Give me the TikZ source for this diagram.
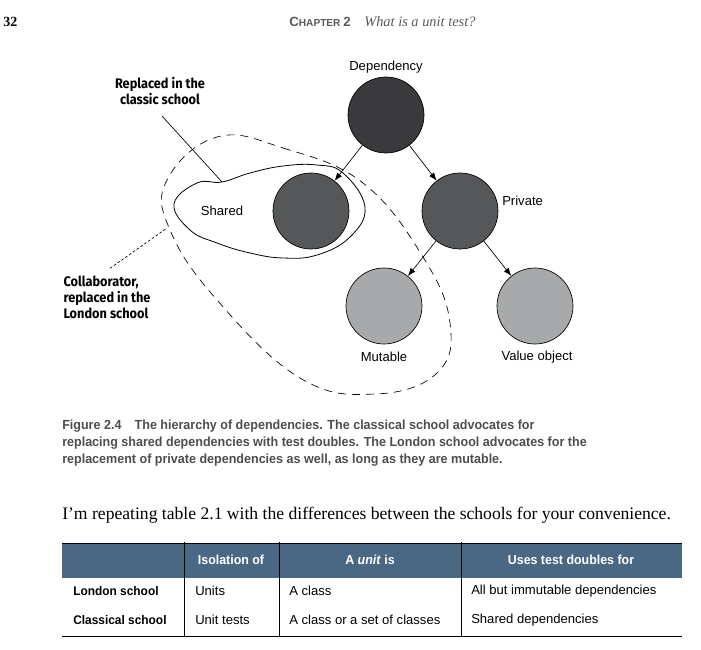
\documentclass[tikz,border=0pt]{standalone}
\usepackage{fontspec}
\setmainfont{Liberation Serif}
\setsansfont{Liberation Sans}
\newfontfamily\capfont[FakeStretch=0.95]{Liberation Sans}
\newfontfamily\callfont[FakeStretch=0.92]{Fira Sans}
\usetikzlibrary{arrows.meta}

\definecolor{darkdep}{HTML}{3A3A3C}
\definecolor{middep}{HTML}{555759}
\definecolor{lightdep}{HTML}{A7A9AB}
\definecolor{headblue}{HTML}{4A6784}
\definecolor{capgray}{HTML}{4D4D4D}
\definecolor{pagegray}{HTML}{58595B}

\begin{document}
\begin{tikzpicture}[x=0.75pt, y=-0.75pt,
    dep/.style={circle, draw=black, line width=0.5pt, minimum size=57pt, inner sep=0pt},
    lbl/.style={font=\sffamily\fontsize{9.8}{12}\selectfont, inner sep=0pt},
    callout/.style={font=\callfont\bfseries\fontsize{10.4}{12}\selectfont, inner sep=0pt},
    arr/.style={-{Latex[length=6pt,width=4.5pt]}, line width=0.5pt},
    capline/.style={font=\capfont\bfseries\fontsize{9.9}{12}\selectfont, text=capgray, anchor=west, inner sep=0pt},
    cell/.style={font=\sffamily\fontsize{9.8}{12}\selectfont, anchor=west, inner sep=0pt},
    rowhead/.style={font=\capfont\bfseries\fontsize{9.4}{12}\selectfont, anchor=west, inner sep=0pt},
    headcell/.style={font=\capfont\bfseries\fontsize{9.8}{12}\selectfont, text=white, inner sep=0pt}]

  \useasboundingbox (0,0) rectangle (701,650);

  % running head
  \node[font=\bfseries\fontsize{10.5}{12}\selectfont, anchor=west, inner sep=0pt] (pagenum) at (3,22) {32};
  \node[font=\sffamily\bfseries, text=pagegray, anchor=west, inner sep=0pt] (chapter) at (289,22)
      {\fontsize{10}{12}\selectfont C\fontsize{7.6}{12}\selectfont HAPTER \fontsize{10}{12}\selectfont 2};
  \node[font=\itshape\fontsize{10.8}{12}\selectfont, text=pagegray, anchor=west, inner sep=0pt] (title) at (364,22)
      {What is a unit test?};

  % the two groups
  \draw[line width=0.5pt, dash pattern=on 6pt off 4.5pt]
      plot[smooth cycle, tension=0.7] coordinates {(217,137) (283,148) (363,183) (423,257) (450,323)
          (437,373) (375,394) (300,378) (217,300) (170,230) (167,180)};
  \draw[line width=0.6pt]
      plot[smooth cycle, tension=0.7] coordinates {(174,204) (197,183) (222,182) (250,173) (283,166)
          (317,165) (343,173) (365,207) (350,237) (317,255) (283,258) (250,253) (217,243) (190,230)};

  % dependencies
  \node[dep, fill=darkdep] (dependency) at (386,115) {};
  \node[dep, fill=middep] (shared) at (311,211) {};
  \node[dep, fill=middep] (private) at (460,211) {};
  \node[dep, fill=lightdep] (mutable) at (384,306) {};
  \node[dep, fill=lightdep] (valueobj) at (535,306) {};

  \node[lbl] (deplbl) at (386,67) {Dependency};
  \node[lbl] (sharedlbl) at (222,211) {Shared};
  \node[lbl, anchor=west] (privatelbl) at (502,201) {Private};
  \node[lbl] (mutablelbl) at (384,357) {Mutable};
  \node[lbl] (valuelbl) at (537,357) {Value object};

  \draw[arr] (dependency) -- (shared);
  \draw[arr] (dependency) -- (private);
  \draw[arr] (private) -- (mutable);
  \draw[arr] (private) -- (valueobj);

  % callouts
  \node[callout, align=center] (classic) at (160,91) {Replaced in the\\classic school};
  \coordinate (blobtop) at (222,182);
  \draw[line width=0.5pt] (classic.south) +(2,11) -- (blobtop);

  \node[callout, align=left] (london) at (107,297) {Collaborator,\\replaced in the\\London school};
  \coordinate (regionleft) at (167,228);
  \draw[line width=0.5pt, dash pattern=on 2pt off 1.5pt] (london.north) +(3,-7) -- (regionleft);

  % caption and text
  \node[capline] (cap1) at (62,426) {Figure 2.4\hspace{1em}The hierarchy of dependencies. The classical school advocates for};
  \node[capline] (cap2) at (62,443) {replacing shared dependencies with test doubles. The London school advocates for the};
  \node[capline] (cap3) at (62,460) {replacement of private dependencies as well, as long as they are mutable.};

  \node[font=\fontsize{13.2}{15}\selectfont, anchor=west, inner sep=0pt] (bodytext) at (62,515)
      {I'm repeating table 2.1 with the differences between the schools for your convenience.};

  % table
  \fill[headblue] (62,543) rectangle (682,578);
  \draw[line width=0.6pt] (62,543) -- (682,543);
  \draw[line width=0.6pt] (62,636) -- (682,636);
  \foreach \cx in {184,279,461}
    \draw[line width=0.6pt] (\cx,542) -- (\cx,636);

  \node[headcell] (hiso) at (231,560) {Isolation of};
  \node[headcell] (hunit) at (370,560) {A \textit{unit} is};
  \node[headcell] (hdoubles) at (571,560) {Uses test doubles for};

  \node[rowhead] (londonrow) at (73,591) {London school};
  \node[cell] (londoniso) at (195,591) {Units};
  \node[cell] (londonunit) at (289,591) {A class};
  \node[cell] (londondbl) at (471,591) {All but immutable dependencies};

  \node[rowhead] (classicrow) at (73,620) {Classical school};
  \node[cell] (classiciso) at (195,620) {Unit tests};
  \node[cell] (classicunit) at (289,620) {A class or a set of classes};
  \node[cell] (classicdbl) at (471,620) {Shared dependencies};
\end{tikzpicture}
\end{document}
